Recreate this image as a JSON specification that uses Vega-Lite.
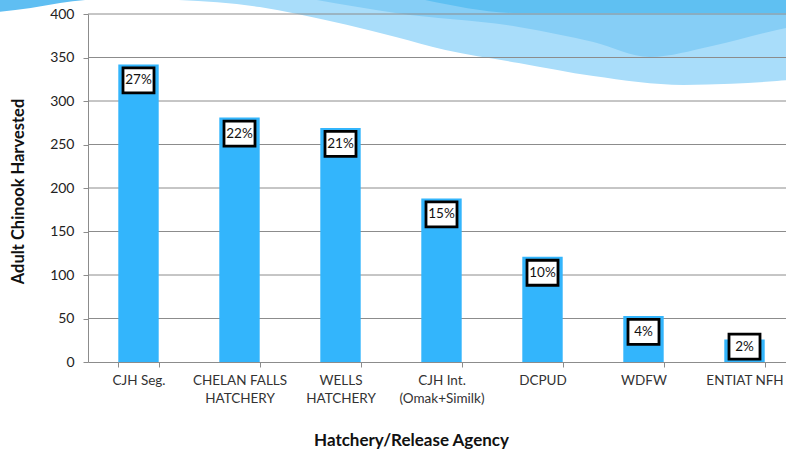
{
  "$schema": "https://vega.github.io/schema/vega-lite/v6.json",
  "width": 698,
  "height": 348,
  "autosize": "none",
  "padding": {"left": 88, "top": 14, "right": 0, "bottom": 92},
  "background": "white",
  "config": {"view": {"stroke": null}, "font": "Lato"},
  "datasets": {
    "harvest": [
      {"agency": "CJH Seg.", "harvested": 342, "share": "27%"},
      {"agency": "CHELAN FALLS\nHATCHERY", "harvested": 281, "share": "22%"},
      {"agency": "WELLS\nHATCHERY", "harvested": 269, "share": "21%"},
      {"agency": "CJH Int.\n(Omak+Similk)", "harvested": 188, "share": "15%"},
      {"agency": "DCPUD", "harvested": 121, "share": "10%"},
      {"agency": "WDFW", "harvested": 53, "share": "4%"},
      {"agency": "ENTIAT NFH", "harvested": 26, "share": "2%"}
    ],
    "wave": [
      {"band": "a0", "pos": -0.13, "edge": 402.3},
      {"band": "a0", "pos": -0.082, "edge": 406.9},
      {"band": "a0", "pos": -0.04, "edge": 412.6},
      {"band": "a0", "pos": -0.004, "edge": 416},
      {"band": "a1", "pos": 0.13, "edge": 416},
      {"band": "a1", "pos": 0.246, "edge": 408},
      {"band": "a1", "pos": 0.3, "edge": 400},
      {"band": "a1", "pos": 0.441, "edge": 373.6},
      {"band": "a1", "pos": 0.512, "edge": 358.6},
      {"band": "a1", "pos": 0.617, "edge": 343.7},
      {"band": "a1", "pos": 0.724, "edge": 328.7},
      {"band": "a1", "pos": 0.853, "edge": 318.5},
      {"band": "a1", "pos": 0.922, "edge": 319.7},
      {"band": "a1", "pos": 0.987, "edge": 323},
      {"band": "a1", "pos": 1.007, "edge": 324.1},
      {"band": "b", "pos": 0.328, "edge": 416},
      {"band": "b", "pos": 0.441, "edge": 401.1},
      {"band": "b", "pos": 0.617, "edge": 385.1},
      {"band": "b", "pos": 0.724, "edge": 367.8},
      {"band": "b", "pos": 0.805, "edge": 350.6},
      {"band": "b", "pos": 0.894, "edge": 363.2},
      {"band": "b", "pos": 0.987, "edge": 381.6},
      {"band": "b", "pos": 1.007, "edge": 385.1},
      {"band": "c", "pos": 0.483, "edge": 416},
      {"band": "c", "pos": 0.617, "edge": 401.1},
      {"band": "c", "pos": 0.8, "edge": 401.1},
      {"band": "c", "pos": 1.007, "edge": 401.1}
    ],
    "grid": [
      {"tick": 50}, {"tick": 100}, {"tick": 150}, {"tick": 200},
      {"tick": 250}, {"tick": 300}, {"tick": 350}, {"tick": 400}
    ]
  },
  "layer": [
    {
      "data": {"name": "wave"},
      "mark": {"type": "area", "interpolate": "monotone", "clip": false, "opacity": 1},
      "encoding": {
        "x": {"field": "pos", "type": "quantitative", "scale": {"domain": [0, 1], "zero": false, "nice": false}, "axis": null},
        "y": {"field": "edge", "type": "quantitative", "stack": null, "scale": {"domain": [0, 400], "nice": false}, "title": "Adult Chinook Harvested"},
        "y2": {"datum": 425},
        "color": {"field": "band", "type": "nominal", "legend": null,
          "scale": {"domain": ["a0", "a1", "b", "c"], "range": ["#5fbef2", "#a9ddfa", "#86cef6", "#5fc0f2"]}}
      }
    },
    {
      "data": {"name": "grid"},
      "mark": {"type": "rule", "color": "#8c8c8c", "strokeWidth": 1},
      "encoding": {
        "y": {"field": "tick", "type": "quantitative", "title": "Adult Chinook Harvested"}
      }
    },
    {
      "data": {"name": "harvest"},
      "layer": [
        {
          "mark": {"type": "bar", "color": "#33b5fc"},
          "encoding": {
            "x": {"field": "agency", "type": "nominal", "sort": null,
              "scale": {"range": [0, 707], "paddingInner": 0.6, "paddingOuter": 0.3},
              "axis": {"title": "Hatchery/Release Agency", "labelAngle": 0, "labelExpr": "split(datum.label, '\\n')",
                "labelFont": "Lato", "labelFontSize": 13.5, "labelColor": "#333333", "labelLineHeight": 18, "labelPadding": 6,
                "domainColor": "#8c8c8c", "tickColor": "#8c8c8c", "tickSize": 5, "tickBand": "extent",
                "titleFont": "Lato", "titleFontSize": 17, "titleFontWeight": "bold", "titleColor": "#111111",
                "titleX": 323, "titleY": 78, "titleBaseline": "middle", "titleAnchor": "middle"}},
            "y": {"field": "harvested", "type": "quantitative",
              "axis": {"title": "Adult Chinook Harvested", "grid": false, "values": [0, 50, 100, 150, 200, 250, 300, 350, 400],
                "labelFont": "Lato", "labelFontSize": 14, "labelColor": "#222222", "labelPadding": 9,
                "domainColor": "#8c8c8c", "tickColor": "#8c8c8c", "tickSize": 5,
                "titleFont": "Lato", "titleFontSize": 16.5, "titleFontWeight": "bold", "titleColor": "#111111",
                "titleX": -70, "titleY": 177, "titleAngle": -90, "titleBaseline": "middle", "titleAnchor": "middle"}}
          }
        },
        {
          "transform": [{"calculate": "max(datum.harvested, 36)", "as": "labelAt"}],
          "mark": {"type": "point", "shape": "M-1.24,-1H1.24V1H-1.24Z", "size": 625, "filled": false, "fill": "white", "fillOpacity": 1, "stroke": "black", "strokeWidth": 2.8, "opacity": 1, "yOffset": 16},
          "encoding": {
            "x": {"field": "agency", "type": "nominal", "sort": null},
            "y": {"field": "labelAt", "type": "quantitative"}
          }
        },
        {
          "transform": [{"calculate": "max(datum.harvested, 36)", "as": "labelAt"}],
          "mark": {"type": "text", "font": "Lato", "fontSize": 13.5, "color": "#111111", "baseline": "middle", "align": "center", "yOffset": 16},
          "encoding": {
            "x": {"field": "agency", "type": "nominal", "sort": null},
            "y": {"field": "labelAt", "type": "quantitative"},
            "text": {"field": "share", "type": "nominal"}
          }
        }
      ]
    }
  ],
  "resolve": {"scale": {"x": "independent"}, "axis": {"x": "independent"}}
}
